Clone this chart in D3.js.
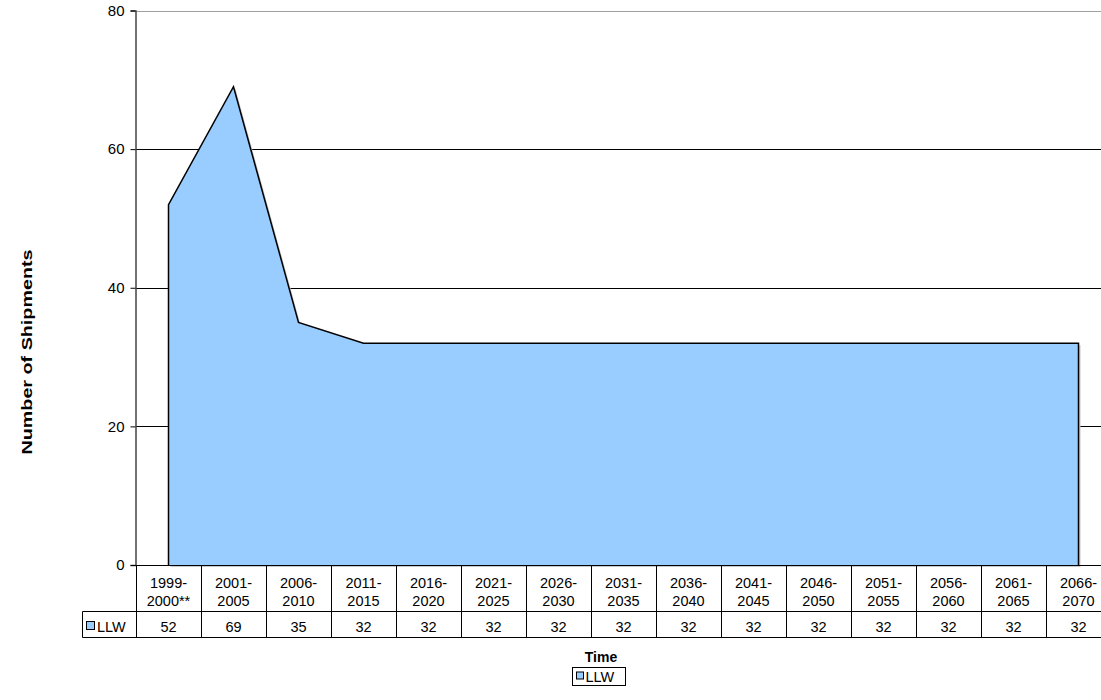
<!DOCTYPE html>
<html lang="en">
<head>
  <meta charset="UTF-8">
  <title>LLW Shipments</title>
  <script src="https://d3js.org/d3.v7.min.js"></script>
  <style>
    body {
      margin: 0;
      font-family: "Liberation Sans", Arial, sans-serif;
      background: #fff;
    }
    .cell {
      font-size: 14.5px;
      fill: #000;
    }
    .title {
      font-weight: bold;
    }
  </style>
</head>
<body>
  <script>
    // periods on the x axis (shown in the data table)
    const periods = ["1999-2000**", "2001-2005", "2006-2010", "2011-2015", "2016-2020",
      "2021-2025", "2026-2030", "2031-2035", "2036-2040", "2041-2045", "2046-2050",
      "2051-2055", "2056-2060", "2061-2065", "2066-2070"];
    // LLW shipments per period
    const llw = [52, 69, 35, 32, 32, 32, 32, 32, 32, 32, 32, 32, 32, 32, 32];
    const yTicks = [0, 20, 40, 60, 80];
    const seriesName = "LLW";

    const width = 1101;
    const height = 700;
    const plot = {left: 136, top: 10.5, right: 1111, bottom: 565};

    const svg = d3.select("body").append("svg")
      .attr("width", width).attr("height", height);

    const x = d3.scaleBand().domain(periods).range([plot.left, plot.right]);
    const y = d3.scaleLinear().domain([0, 80]).range([plot.bottom, plot.top]);
    const cx = (d, i) => x(periods[i]) + x.bandwidth() / 2;

    // gridlines
    svg.append("g").selectAll("line")
      .data(yTicks.filter(d => d > 0))
      .join("line")
      .attr("x1", plot.left).attr("x2", width)
      .attr("y1", d => Math.round(y(d)) + 0.5).attr("y2", d => Math.round(y(d)) + 0.5)
      .attr("stroke", d => d === 80 ? "#a0a0a0" : "#000")
      .attr("stroke-width", 1);

    // area with a faint shadow
    const area = d3.area().x(cx).y0(y(0)).y1(d => y(d));
    const outline = d3.line().x(cx).y(d => y(d));

    svg.append("path")
      .datum(llw)
      .attr("d", area)
      .attr("transform", "translate(2,2)")
      .attr("fill", "#c8c8c8");
    svg.append("path")
      .datum(llw)
      .attr("d", area)
      .attr("fill", "#99ccff");
    // outline: left edge, top, right edge
    svg.append("path")
      .attr("d", `M${cx(llw[0], 0)},${y(0)}` + outline(llw).replace(/^M/, "L") +
        `L${cx(llw[llw.length - 1], llw.length - 1)},${y(0)}`)
      .attr("fill", "none")
      .attr("stroke", "#000")
      .attr("stroke-width", 1.5);

    // y axis
    const yAxis = d3.axisLeft(y).tickValues(yTicks).tickSize(5).tickPadding(6).tickFormat(d3.format("d"));
    const yg = svg.append("g")
      .attr("transform", `translate(${plot.left - 0.5},0)`)
      .call(yAxis)
      .attr("font-family", "Liberation Sans, Arial, sans-serif")
      .attr("font-size", 15);
    yg.select(".domain").attr("stroke", "#444").attr("stroke-width", 1.5);
    yg.selectAll(".tick line").attr("stroke", "#000");
    yg.selectAll(".tick text").attr("fill", "#000");

    // zero line
    svg.append("line")
      .attr("x1", plot.left - 5).attr("x2", width)
      .attr("y1", y(0) + 0.5).attr("y2", y(0) + 0.5)
      .attr("stroke", "#000");

    // data table
    const rowTop = y(0);
    const rowMid = 611.5;
    const rowBot = 637.5;
    const tableLeft = 82.5;
    const table = svg.append("g");

    table.selectAll("line.vdiv")
      .data(periods)
      .join("line")
      .attr("class", "vdiv")
      .attr("x1", d => Math.round(x(d)) + 0.5).attr("x2", d => Math.round(x(d)) + 0.5)
      .attr("y1", rowTop).attr("y2", rowBot)
      .attr("stroke", "#000");
    table.append("line")
      .attr("x1", tableLeft).attr("x2", width)
      .attr("y1", rowMid).attr("y2", rowMid).attr("stroke", "#000");
    table.append("line")
      .attr("x1", tableLeft).attr("x2", width)
      .attr("y1", rowBot).attr("y2", rowBot).attr("stroke", "#000");
    table.append("line")
      .attr("x1", tableLeft).attr("x2", tableLeft)
      .attr("y1", rowMid).attr("y2", rowBot).attr("stroke", "#000");

    // period labels, split after the hyphen
    const labels = table.selectAll("text.period")
      .data(periods)
      .join("text")
      .attr("class", "cell period")
      .attr("text-anchor", "middle");
    labels.append("tspan")
      .attr("x", (d, i) => cx(d, i))
      .attr("y", 588)
      .text(d => d.slice(0, d.indexOf("-") + 1));
    labels.append("tspan")
      .attr("x", (d, i) => cx(d, i))
      .attr("y", 605.5)
      .text(d => d.slice(d.indexOf("-") + 1));

    table.selectAll("text.val")
      .data(llw)
      .join("text")
      .attr("class", "cell val")
      .attr("text-anchor", "middle")
      .attr("x", cx)
      .attr("y", 632)
      .text(d => d);

    // row header key
    table.append("rect")
      .attr("x", 86.5).attr("y", 621.5).attr("width", 8).attr("height", 8)
      .attr("fill", "#99ccff").attr("stroke", "#000");
    table.append("text")
      .attr("class", "cell")
      .attr("x", 97).attr("y", 632)
      .text(seriesName);

    // axis titles
    svg.append("text")
      .attr("class", "title")
      .attr("font-size", 14.5)
      .attr("text-anchor", "middle")
      .attr("textLength", 205)
      .attr("lengthAdjust", "spacingAndGlyphs")
      .attr("transform", "translate(32,352) rotate(-90)")
      .text("Number of Shipments");
    svg.append("text")
      .attr("class", "title")
      .attr("font-size", 14)
      .attr("text-anchor", "middle")
      .attr("x", 601).attr("y", 662)
      .text("Time");

    // legend
    const legend = svg.append("g").attr("transform", "translate(572.5,667.5)");
    legend.append("rect")
      .attr("width", 53).attr("height", 18)
      .attr("fill", "#fff").attr("stroke", "#000");
    legend.append("rect")
      .attr("x", 4).attr("y", 4.5).attr("width", 7).attr("height", 7)
      .attr("fill", "#99ccff").attr("stroke", "#000");
    legend.append("text")
      .attr("class", "cell")
      .attr("x", 13).attr("y", 14.5)
      .text(seriesName);
  </script>
</body>
</html>
